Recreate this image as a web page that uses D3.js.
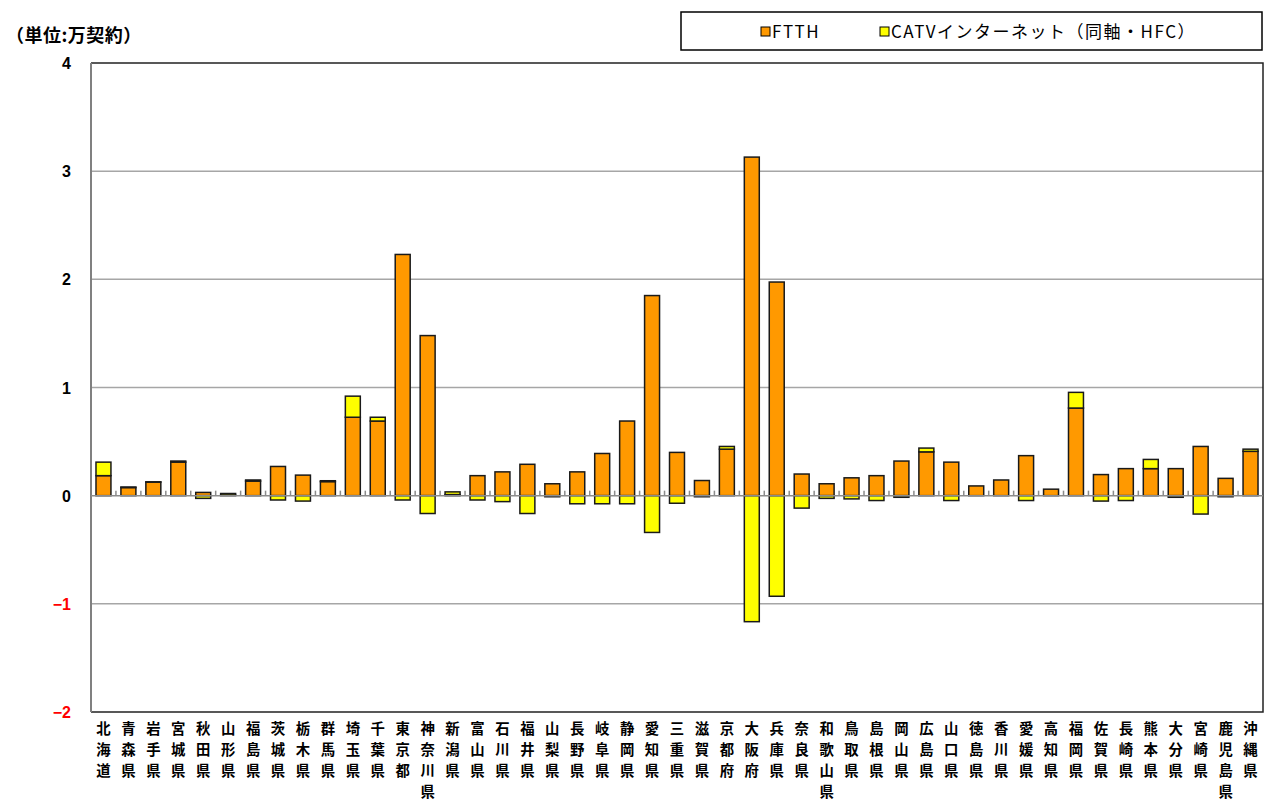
<!DOCTYPE html>
<html>
<head>
<meta charset="utf-8">
<script src="https://cdn.jsdelivr.net/npm/d3@7"></script>
<style>
  body { margin: 0; background: #fff; }
  text { font-family: "Liberation Sans", Arial, sans-serif; }
  .jp { font-family: "Noto Sans CJK JP", sans-serif; }
</style>
</head>
<body>
<div id="chart"></div>
<script>
// prefecture names (drawn one character per row)
var prefectures = ["北海道","青森県","岩手県","宮城県","秋田県","山形県","福島県","茨城県","栃木県","群馬県",
  "埼玉県","千葉県","東京都","神奈川県","新潟県","富山県","石川県","福井県","山梨県","長野県",
  "岐阜県","静岡県","愛知県","三重県","滋賀県","京都府","大阪府","兵庫県","奈良県","和歌山県",
  "鳥取県","島根県","岡山県","広島県","山口県","徳島県","香川県","愛媛県","高知県","福岡県",
  "佐賀県","長崎県","熊本県","大分県","宮崎県","鹿児島県","沖縄県"];

// FTTH change (万契約)
var ftth = [0.185,0.075,0.125,0.31,0.03,0.005,0.135,0.27,0.19,0.13,
  0.725,0.69,2.23,1.48,0.01,0.185,0.22,0.29,0.11,0.22,
  0.39,0.69,1.85,0.40,0.14,0.43,3.13,1.975,0.20,0.11,
  0.165,0.185,0.32,0.405,0.31,0.09,0.145,0.37,0.06,0.81,
  0.195,0.25,0.25,0.25,0.455,0.16,0.41];

// CATV internet change (万契約)
var catv = [0.125,0.005,0.003,0.01,-0.025,0.015,0.01,-0.04,-0.05,0.008,
  0.195,0.035,-0.04,-0.165,0.025,-0.04,-0.055,-0.165,-0.01,-0.075,
  -0.075,-0.075,-0.34,-0.07,-0.01,0.025,-1.165,-0.93,-0.115,-0.025,
  -0.03,-0.045,-0.015,0.035,-0.045,0,0,-0.045,0,0.145,
  -0.05,-0.045,0.085,-0.015,-0.17,-0.01,0.02];

var yTicks = [-2, -1, 0, 1, 2, 3, 4];
var seriesNames = ["FTTH", "CATVインターネット（同軸・HFC）"];
var seriesColors = ["#FF9900", "#FFFF00"];

var svgWidth = 1268;
var svgHeight = 803;
var margin = { top: 63, right: 5, bottom: 91, left: 91 };
var width = svgWidth - margin.left - margin.right;
var height = svgHeight - margin.top - margin.bottom;

var svg = d3.select("#chart")
  .append("svg")
  .attr("width", svgWidth)
  .attr("height", svgHeight);

var chartGroup = svg.append("g")
  .attr("transform", `translate(${margin.left}, ${margin.top})`);

var rows = prefectures.map(function(p, i) {
  return { pref: p, ftth: ftth[i], catv: catv[i] };
});

var xScale = d3.scaleBand()
  .domain(prefectures)
  .range([0, width])
  .paddingInner(0.4)
  .paddingOuter(0.2);

var yScale = d3.scaleLinear()
  .domain([-2, 4])
  .range([height, 0]);

// gridlines
chartGroup.append("g")
  .selectAll("line")
  .data(yTicks.filter(d => d !== 0 && d !== 4 && d !== -2))
  .enter()
  .append("line")
  .attr("x1", 0)
  .attr("x2", width)
  .attr("y1", d => yScale(d))
  .attr("y2", d => yScale(d))
  .attr("stroke", "#a6a6a6")
  .attr("stroke-width", 1.5);

// plot border (top, right, bottom)
chartGroup.append("path")
  .attr("d", `M0,${yScale(4)}H${width}V${yScale(-2)}H0`)
  .attr("fill", "none")
  .attr("stroke", "#222")
  .attr("stroke-width", 1.5);

// y axis line
chartGroup.append("line")
  .attr("x1", 0).attr("x2", 0)
  .attr("y1", yScale(4)).attr("y2", yScale(-2))
  .attr("stroke", "#808080")
  .attr("stroke-width", 2);

// y tick labels
svg.append("g")
  .selectAll("text")
  .data(yTicks)
  .enter()
  .append("text")
  .attr("x", 71)
  .attr("y", d => margin.top + yScale(d) + 6)
  .attr("text-anchor", "end")
  .attr("font-size", 16)
  .attr("font-weight", "bold")
  .attr("fill", d => d < 0 ? "#ff0000" : "#000")
  .text(d => d < 0 ? "\u2212" + Math.abs(d) : d);

// stacked bars, negatives going down
var stack = d3.stack()
  .keys(["ftth", "catv"])
  .offset(d3.stackOffsetDiverging);
var stacked = stack(rows);

var layers = chartGroup.selectAll("g.layer")
  .data(stacked)
  .enter()
  .append("g")
  .attr("class", "layer")
  .attr("fill", (d, i) => seriesColors[i]);

layers.selectAll("rect")
  .data(d => d)
  .enter()
  .append("rect")
  .attr("x", d => xScale(d.data.pref))
  .attr("width", xScale.bandwidth())
  .attr("y", d => yScale(Math.max(d[0], d[1])))
  .attr("height", d => Math.abs(yScale(d[0]) - yScale(d[1])))
  .attr("stroke", "#1a1a1a")
  .attr("stroke-width", 1.5);

// zero line with small ticks between categories
chartGroup.append("line")
  .attr("x1", 0).attr("x2", width)
  .attr("y1", yScale(0)).attr("y2", yScale(0))
  .attr("stroke", "#8c8c8c")
  .attr("stroke-width", 1.5);

var step = xScale.step();
chartGroup.append("g")
  .selectAll("line")
  .data(d3.range(1, prefectures.length))
  .enter()
  .append("line")
  .attr("x1", d => d * step)
  .attr("x2", d => d * step)
  .attr("y1", yScale(0) - 5)
  .attr("y2", yScale(0))
  .attr("stroke", "#8c8c8c")
  .attr("stroke-width", 1.5);

// x labels, one character per row
var xLabels = svg.append("g");
prefectures.forEach(function(p) {
  var cx = margin.left + xScale(p) + xScale.bandwidth() / 2;
  p.split("").forEach(function(ch, j) {
    xLabels.append("text")
      .attr("class", "jp")
      .attr("x", cx)
      .attr("y", 734 + j * 21)
      .attr("text-anchor", "middle")
      .attr("font-size", 14.4)
      .attr("font-weight", "bold")
      .text(ch);
  });
});

// unit label
svg.append("text")
  .attr("class", "jp")
  .attr("x", 6)
  .attr("y", 42)
  .attr("font-size", 18)
  .attr("font-weight", "bold")
  .attr("letter-spacing", 0.5)
  .text("（単位:万契約）");

// legend
var legend = svg.append("g");
legend.append("rect")
  .attr("x", 681).attr("y", 12)
  .attr("width", 581).attr("height", 38)
  .attr("fill", "#fff")
  .attr("stroke", "#000")
  .attr("stroke-width", 1.5);

var legendX = [761, 880];
seriesNames.forEach(function(name, i) {
  legend.append("rect")
    .attr("x", legendX[i]).attr("y", 27)
    .attr("width", 9).attr("height", 9)
    .attr("fill", seriesColors[i])
    .attr("stroke", "#000")
    .attr("stroke-width", 1);
  legend.append("text")
    .attr("class", "jp")
    .attr("x", legendX[i] + 11)
    .attr("y", 38)
    .attr("font-size", 17)
    .attr("letter-spacing", 1.5)
    .text(name);
});
</script>
</body>
</html>
